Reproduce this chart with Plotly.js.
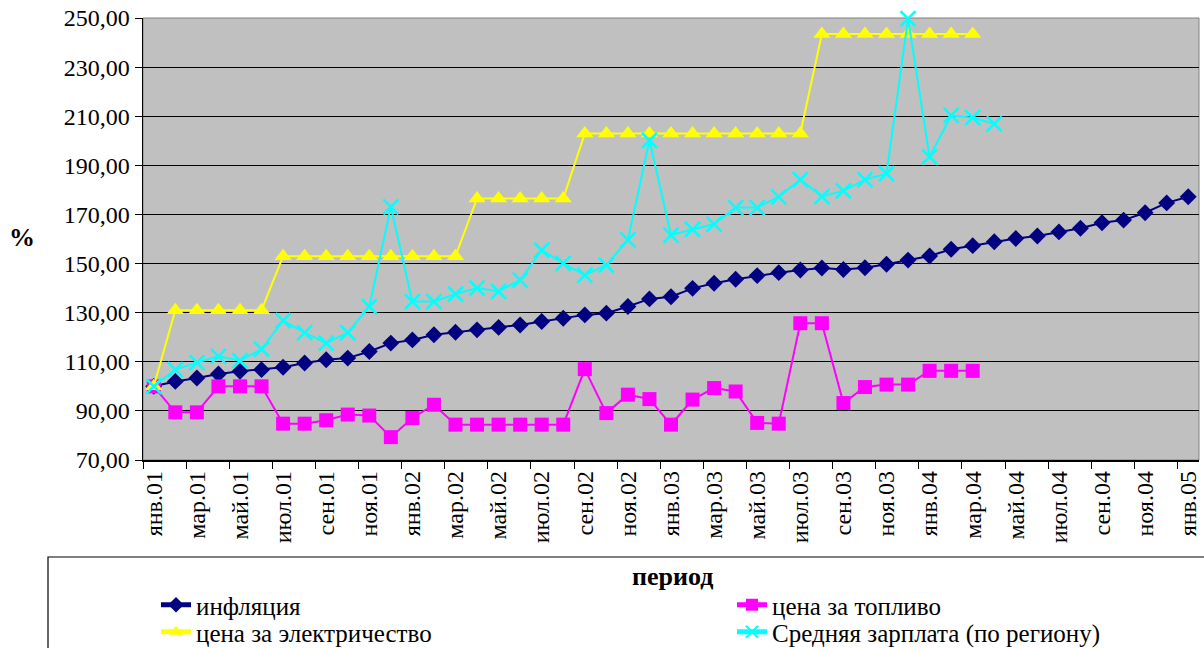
<!DOCTYPE html>
<html>
<head>
<meta charset="utf-8">
<script src="https://cdn.plot.ly/plotly-3.0.1.min.js"></script>
<style>html,body{margin:0;padding:0;background:#fff}#chart{width:1204px;height:648px}
#chart svg text{font-family:'Liberation Serif','Times New Roman',serif !important}</style>
</head>
<body>
<div id="chart"></div>
<script>
const periods = [
  'янв.01','фев.01','мар.01','апр.01','май.01','июн.01','июл.01','авг.01','сен.01','окт.01','ноя.01','дек.01',
  'янв.02','фев.02','мар.02','апр.02','май.02','июн.02','июл.02','авг.02','сен.02','окт.02','ноя.02','дек.02',
  'янв.03','фев.03','мар.03','апр.03','май.03','июн.03','июл.03','авг.03','сен.03','окт.03','ноя.03','дек.03',
  'янв.04','фев.04','мар.04','апр.04','май.04','июн.04','июл.04','авг.04','сен.04','окт.04','ноя.04','дек.04',
  'янв.05'
];
const inflation = [100, 102, 103.4, 105, 106.1, 106.8, 107.8, 109.5, 110.8, 111.5, 114.2, 117.6,
  118.9, 121, 122, 123, 124, 125, 126.4, 127.7, 129.1, 129.8, 132.5, 135.6,
  136.5, 139.9, 142, 143.6, 145.1, 146.3, 147.4, 148.2, 147.6, 148.3, 149.7, 151.4,
  153.1, 155.8, 157.3, 158.9, 160.2, 161.2, 162.9, 164.4, 166.6, 167.7, 170.7, 174.7,
  177.2];
const fuel = [100, 89.4, 89.4, 100, 100, 100, 84.8, 84.8, 86.2, 88.5, 88.1, 79.3,
  87.1, 92.5, 84.4, 84.4, 84.4, 84.4, 84.4, 84.4, 107, 89.1, 96.6, 94.8,
  84.4, 94.6, 99.3, 97.9, 85.1, 84.8, 125.7, 125.7, 93.2, 99.7, 100.7, 100.7,
  106.3, 106.3, 106.3];
const electricity = [100, 131, 131, 131, 131, 131, 153, 153, 153, 153, 153, 153,
  153, 153, 153, 176.5, 176.5, 176.5, 176.5, 176.5, 203, 203, 203, 203,
  203, 203, 203, 203, 203, 203, 203, 243.5, 243.5, 243.5, 243.5, 243.5,
  243.5, 243.5, 243.5];
const salary = [100, 106.8, 109.7, 112.2, 110.5, 115.1, 126.8, 121.9, 117.6, 121.9, 132.5, 173.1,
  134.5, 134.5, 137.6, 140, 138.7, 143.3, 155.5, 150.1, 145.3, 149.4, 159.6, 200.2,
  161.6, 163.9, 166.1, 172.8, 172.8, 177.2, 184.2, 177.3, 179.6, 184.2, 186.6, 249.7,
  193.4, 210.3, 209.4, 206.9];
const seriesNames = ['инфляция', 'цена за топливо', 'цена за электричество', 'Средняя зарплата (по региону)'];
const yTitle = '%';
const xTitle = 'период';

const FONT = 'Liberation Serif';
const traces = [
  {x: periods.slice(0, inflation.length), y: inflation, name: seriesNames[0], type: 'scatter', mode: 'lines+markers',
   legend: 'legend',
   line: {color: '#000080', width: 2}, marker: {symbol: 'diamond', size: 13, color: '#000080'}, cliponaxis: false},
  {x: periods.slice(0, fuel.length), y: fuel, name: seriesNames[1], type: 'scatter', mode: 'lines+markers',
   legend: 'legend2',
   line: {color: '#FF00FF', width: 2}, marker: {symbol: 'square', size: 14, color: '#FF00FF'}, cliponaxis: false},
  {x: periods.slice(0, electricity.length), y: electricity, name: seriesNames[2], type: 'scatter', mode: 'lines+markers',
   legend: 'legend3',
   line: {color: '#FFFF00', width: 2}, marker: {symbol: 'triangle-up', size: 15, color: '#FFFF00'}, cliponaxis: false},
  {x: periods.slice(0, salary.length), y: salary, name: seriesNames[3], type: 'scatter', mode: 'lines+markers',
   legend: 'legend4',
   line: {color: '#00FFFF', width: 2}, marker: {symbol: 'x-thin-open', size: 15, color: '#00FFFF', line: {color: '#00FFFF', width: 2.5}}, cliponaxis: false}
];

const W = 1204, H = 648, L = 143, R = 5, T = 18, B = 188;
const pw = W - L - R, ph = H - T - B;
const px = v => (v - L) / pw;
const py = v => (H - B - v) / ph;

const legendStyle = {
  orientation: 'h', xanchor: 'left', yanchor: 'middle',
  font: {family: FONT, size: 25, color: '#000'}, bgcolor: 'rgba(0,0,0,0)', borderwidth: 0,
  itemsizing: 'constant'
};

const layout = {
  width: W, height: H,
  margin: {l: L, r: R, t: T, b: B, pad: 0, autoexpand: false},
  paper_bgcolor: '#FFFFFF',
  plot_bgcolor: '#C0C0C0',
  separators: ', ',
  font: {family: FONT, size: 24, color: '#000'},
  showlegend: true,
  xaxis: {
    type: 'category', categoryorder: 'array', categoryarray: periods,
    range: [-0.5, periods.length - 0.5],
    tickmode: 'linear', tick0: 0, dtick: 2, tickson: 'boundaries',
    tickangle: -90, ticks: 'outside', ticklen: 7, tickcolor: '#000', tickwidth: 1,
    showline: true, linecolor: '#000', linewidth: 1.5, showgrid: false, zeroline: false,
    automargin: false,
    tickfont: {family: FONT, size: 24, color: '#000'}
  },
  yaxis: {
    range: [70, 250], tickmode: 'linear', tick0: 70, dtick: 20, tickformat: '.2f',
    ticks: 'outside', ticklen: 7, tickcolor: '#000',
    showline: true, linecolor: '#000', linewidth: 1.5,
    showgrid: true, gridcolor: '#000', gridwidth: 1, zeroline: false,
    automargin: false,
    tickfont: {family: FONT, size: 24, color: '#000'}
  },
  legend: Object.assign({}, legendStyle, {x: px(156), y: py(605)}),
  legend2: Object.assign({}, legendStyle, {x: px(732), y: py(605)}),
  legend3: Object.assign({}, legendStyle, {x: px(156), y: py(632)}),
  legend4: Object.assign({}, legendStyle, {x: px(732), y: py(632)}),
  shapes: [
    {type: 'rect', xref: 'paper', yref: 'paper', x0: px(48), x1: px(1215), y0: py(557), y1: py(655),
     line: {color: '#000', width: 1.2}, fillcolor: 'rgba(0,0,0,0)', layer: 'above'},
    {type: 'rect', xref: 'paper', yref: 'paper', x0: 0, x1: 1, y0: 0, y1: 1,
     line: {color: '#808080', width: 1}, fillcolor: 'rgba(0,0,0,0)', layer: 'below'}
  ],
  annotations: [
    {text: '<b>' + yTitle + '</b>', xref: 'paper', yref: 'paper', x: px(22), y: py(237), xanchor: 'center', yanchor: 'middle',
     showarrow: false, font: {family: FONT, size: 26, color: '#000'}},
    {text: '<b>' + xTitle + '</b>', xref: 'paper', yref: 'paper', x: px(672), y: py(576), xanchor: 'center', yanchor: 'middle',
     showarrow: false, font: {family: FONT, size: 26, color: '#000'}}
  ]
};

Plotly.newPlot('chart', traces, layout, {displayModeBar: false, staticPlot: true});
</script>
</body>
</html>
